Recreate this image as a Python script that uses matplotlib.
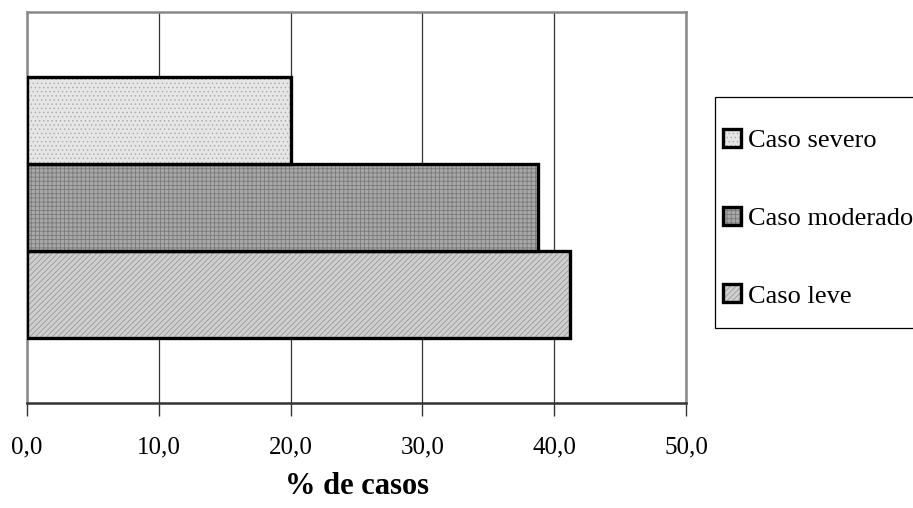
import matplotlib
matplotlib.use("Agg")
import matplotlib.pyplot as plt
from matplotlib.patches import Rectangle

plt.rcParams['font.family'] = ['Liberation Serif', 'DejaVu Serif']
plt.rcParams['hatch.linewidth'] = 0.6

categories = ["Caso leve", "Caso moderado", "Caso severo"]
values = [41.2, 38.8, 20.0]
xticks = [0, 10, 20, 30, 40, 50]
xticklabels = ["0,0", "10,0", "20,0", "30,0", "40,0", "50,0"]
xlabel = "% de casos"

faces = ["#cfcfcf", "#a8a8a8", "#e6e6e6"]
hatches = ["//////", "++++", "...."]
hatchcolors = ["#9a9a9a", "#7a7a7a", "#b0b0b0"]

W, H = 913, 508
fig = plt.figure(figsize=(W/100, H/100), dpi=100)
ax = fig.add_axes([27/W, 1-403/H, (686-27)/W, (403-12)/H])

for i, (c, v) in enumerate(zip(categories, values)):
    b = ax.barh(i, v, height=1.0, color=faces[i], edgecolor="black",
                linewidth=2.4, label=c, zorder=3)
    for p in b:
        p.set_hatch(hatches[i])
        p._hatch_color = matplotlib.colors.to_rgba(hatchcolors[i])

ax.set_xlim(0, 50)
ax.set_ylim(-1.25, 3.25)
ax.set_xticks(xticks)
ax.set_xticklabels(xticklabels, fontsize=18)
ax.set_yticks([])
ax.tick_params(axis='x', direction='out', length=9, width=1, pad=15, color='#333333')
ax.xaxis.grid(True, color='#333333', linewidth=0.9, zorder=0)
ax.set_axisbelow(True)
for s in ['top', 'right', 'left']:
    ax.spines[s].set_color('#888888')
    ax.spines[s].set_linewidth(1.8)
ax.spines['bottom'].set_color('#333333')
ax.spines['bottom'].set_linewidth(1.8)
fig.text(357/W, 1-487/H, xlabel, fontsize=22, fontweight='bold',
         ha='center', va='center')

# legend frame
fig.patches.append(Rectangle((715/W, 1-328/H), (W+5-715)/W, (328-97)/H,
                             transform=fig.transFigure, facecolor='white',
                             edgecolor='black', linewidth=0.9, zorder=1))

handles, labels = ax.get_legend_handles_labels()
leg = fig.legend(handles[::-1], labels[::-1], loc='upper left',
                 bbox_to_anchor=(723/W, 1-129/H), fontsize=19,
                 frameon=False, handlelength=0.68, handleheight=0.68,
                 handletextpad=0.25, labelspacing=2.06, borderpad=0,
                 borderaxespad=0)
leg.set_zorder(2)

fig.savefig("out.png", dpi=100)
